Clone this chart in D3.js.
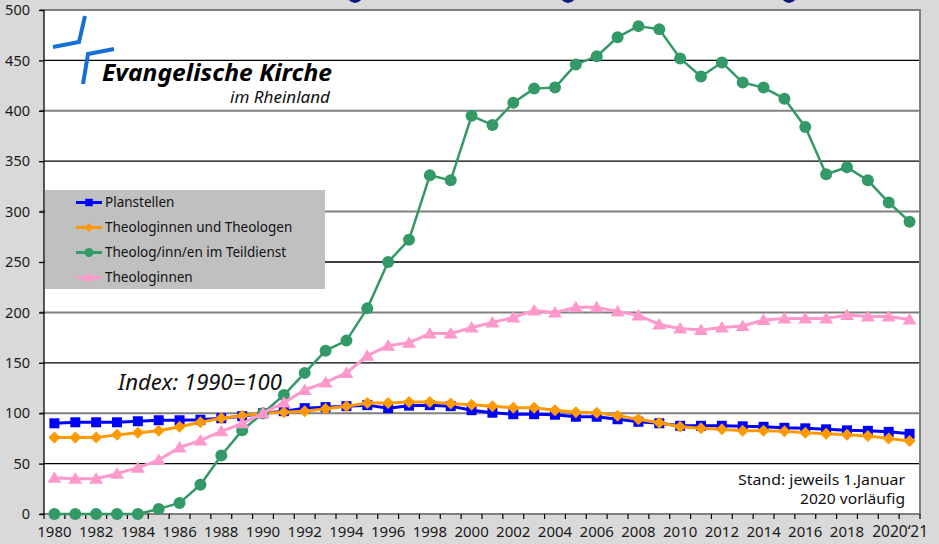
<!DOCTYPE html>
<html>
<head>
<meta charset="utf-8">
<script src="https://cdn.jsdelivr.net/npm/d3@7"></script>
<style>
  html, body { margin: 0; padding: 0; background: #d9d9d9; }
  svg { display: block; }
  text { font-family: "Noto Sans", "Open Sans", sans-serif; }
</style>
</head>
<body>
<svg id="chart" width="939" height="544"></svg>
<script>
// Index 1990 = 100, Stand jeweils 1. Januar
const years = [1980, 1981, 1982, 1983, 1984, 1985, 1986, 1987, 1988, 1989,
               1990, 1991, 1992, 1993, 1994, 1995, 1996, 1997, 1998, 1999,
               2000, 2001, 2002, 2003, 2004, 2005, 2006, 2007, 2008, 2009,
               2010, 2011, 2012, 2013, 2014, 2015, 2016, 2017, 2018, 2019,
               2020, 2021];

const planstellen = [90, 91, 91, 91, 92, 93, 93, 93.5, 95, 97,
                     100, 102, 105, 106, 107, 108, 105, 107.5, 108, 107,
                     103, 100.5, 99, 99, 98.5, 96.5, 96.5, 94, 91.5, 90,
                     87.5, 87.5, 87.5, 87, 86.5, 85.5, 85, 84, 83, 82.5,
                     81.5, 79.5];

const theologen = [76, 76, 76, 78.5, 80.5, 82.5, 86.5, 91, 95, 97.5,
                   100, 101, 102, 104.5, 107, 110, 110, 111, 111, 109.5,
                   108.5, 107, 105.5, 105.5, 103, 101, 100.5, 97.5, 94, 90.5,
                   86.5, 85, 84, 82.5, 82.5, 82, 80.5, 79.5, 78.5, 77.5,
                   75, 72.5];

const teildienst = [0, 0, 0, 0, 0, 5, 11, 29, 58, 83,
                    100, 118, 140, 162, 172, 204, 250, 272, 336, 331,
                    395, 386, 408, 422, 423, 446, 454, 473, 484, 481,
                    452, 434, 448, 428, 423, 412, 384, 337, 344, 331,
                    309, 290];

const theologinnen = [36, 35, 35, 40, 46, 53.5, 66, 73, 82, 90,
                      100, 110.5, 123, 130.5, 140, 157, 167, 170, 179, 179,
                      185, 190, 195, 202, 200, 205, 205, 201, 197, 188,
                      184, 182.5, 185, 186.5, 192.5, 194, 194, 194, 197.5, 196,
                      196, 193];

const seriesNames = ["Planstellen", "Theologinnen und Theologen",
                     "Theolog/inn/en im Teildienst", "Theologinnen"];
const yTicks = [0, 50, 100, 150, 200, 250, 300, 350, 400, 450, 500];
const xTickYears = [1980, 1982, 1984, 1986, 1988, 1990, 1992, 1994, 1996, 1998,
                    2000, 2002, 2004, 2006, 2008, 2010, 2012, 2014, 2016, 2018];
const lastTickLabel = "2020‘21";

const W = 939, H = 544;
const plot = { left: 44, right: 920, top: 10, bottom: 514 };

const svg = d3.select("#chart");

const x = d3.scaleBand().domain(years).range([plot.left, plot.right]).padding(0);
const cx = yr => x(yr) + x.bandwidth() / 2;
const y = d3.scaleLinear().domain([0, 500]).range([plot.bottom, plot.top]);

// page background
svg.append("rect").attr("width", W).attr("height", H).attr("fill", "#d9d9d9");

// partly visible heading descenders along the top edge
const headG = svg.append("g").attr("fill", "none").attr("stroke", "#0a1a7a")
  .attr("stroke-width", 3).attr("stroke-linecap", "round");
[355, 568, 789].forEach(px => {
  headG.append("path").attr("d", `M${px - 6},-2 Q${px},5 ${px + 6},-2`);
});

// plot area
svg.append("rect")
  .attr("x", plot.left).attr("y", plot.top)
  .attr("width", plot.right - plot.left).attr("height", plot.bottom - plot.top)
  .attr("fill", "#ffffff");

// horizontal gridlines: hundreds grey and heavier, fifties thin black
const grid = svg.append("g");
yTicks.forEach(v => {
  const major = v % 100 === 0;
  grid.append("line")
    .attr("x1", major ? plot.left - 4 : plot.left).attr("x2", plot.right)
    .attr("y1", y(v)).attr("y2", y(v))
    .attr("stroke", major ? "#808080" : "#000000")
    .attr("stroke-width", major ? 2 : 1.3);
});

// right frame edge
svg.append("line")
  .attr("x1", plot.right).attr("x2", plot.right)
  .attr("y1", plot.top - 1).attr("y2", plot.bottom + 1)
  .attr("stroke", "#808080").attr("stroke-width", 2);

// y axis
const yAxis = svg.append("g")
  .attr("transform", `translate(${plot.left},0)`)
  .call(d3.axisLeft(y).tickValues(yTicks).tickSize(5).tickPadding(9).tickFormat(d3.format("d")));
yAxis.select(".domain").attr("stroke", "#000").attr("stroke-width", 1.3)
  .attr("d", `M0,${plot.top}V${plot.bottom}`);
yAxis.selectAll(".tick line").attr("stroke", "#000").attr("stroke-width", 1.3);
yAxis.selectAll(".tick text")
  .attr("font-size", 14.5).attr("fill", "#1a1a1a")
  .attr("font-family", "'Noto Sans', sans-serif");

// x axis: category boundary ticks and year labels
const xg = svg.append("g");
const bounds = years.map(yr => x(yr)).concat([plot.right]);
bounds.forEach(bx => {
  xg.append("line")
    .attr("x1", bx).attr("x2", bx)
    .attr("y1", plot.bottom).attr("y2", plot.bottom + 5)
    .attr("stroke", "#000").attr("stroke-width", 1.2);
});
xTickYears.forEach(yr => {
  xg.append("text")
    .attr("x", cx(yr)).attr("y", 537)
    .attr("text-anchor", "middle")
    .attr("font-size", 15).attr("fill", "#1a1a1a")
    .text(String(yr));
});
xg.append("text")
  .attr("x", (cx(2020) + cx(2021)) / 2 + 1).attr("y", 537)
  .attr("text-anchor", "middle")
  .attr("font-size", 15.5).attr("fill", "#1a1a1a")
  .text(lastTickLabel);

// legend
const legendColors = ["#0000ff", "#ff9900", "#339966", "#ff99cc"];
const legend = svg.append("g");
legend.append("rect")
  .attr("x", 45).attr("y", 190).attr("width", 280).attr("height", 99)
  .attr("fill", "#c0c0c0");

// marker shapes per series
const markers = [
  (g, px, py, s) => g.append("rect").attr("x", px - 5 * s).attr("y", py - 5 * s)
                     .attr("width", 10 * s).attr("height", 10 * s),
  (g, px, py, s) => g.append("path")
                     .attr("d", `M${px},${py - 6 * s}L${px + 6 * s},${py}L${px},${py + 6 * s}L${px - 6 * s},${py}Z`),
  (g, px, py, s) => g.append("circle").attr("cx", px).attr("cy", py).attr("r", 6 * s),
  (g, px, py, s) => g.append("path")
                     .attr("d", `M${px},${py - 6.5 * s}L${px + 7 * s},${py + 5 * s}L${px - 7 * s},${py + 5 * s}Z`)
];

const legendY = [202.5, 227.5, 252.5, 277.5];
seriesNames.forEach((name, i) => {
  const ly = legendY[i];
  legend.append("line")
    .attr("x1", 76).attr("x2", 102).attr("y1", ly).attr("y2", ly)
    .attr("stroke", legendColors[i]).attr("stroke-width", 3);
  markers[i](legend, 89, ly, 0.75).attr("fill", legendColors[i]);
  legend.append("text")
    .attr("x", 105).attr("y", ly + 4.5)
    .attr("font-size", 13.5).attr("fill", "#111")
    .text(name);
});

// logo
const logo = svg.append("g").attr("fill", "none").attr("stroke", "#1670d6")
  .attr("stroke-width", 4);
logo.append("path").attr("d", "M53,47 L79,42 L85,16");
logo.append("path").attr("d", "M83,84 L88,54 L114,49");
svg.append("text")
  .attr("x", 102).attr("y", 81)
  .attr("font-size", 22.5).attr("font-weight", "bold").attr("font-style", "italic")
  .attr("fill", "#000")
  .attr("textLength", 230).attr("lengthAdjust", "spacingAndGlyphs")
  .text("Evangelische Kirche");
svg.append("text")
  .attr("x", 230).attr("y", 103)
  .attr("font-size", 15.5).attr("font-style", "italic").attr("fill", "#111")
  .attr("textLength", 100).attr("lengthAdjust", "spacingAndGlyphs")
  .text("im Rheinland");

// data series
const seriesData = [planstellen, theologen, teildienst, theologinnen];
const lineWidths = [3, 3, 2.5, 3];
const line = d3.line().x((d, i) => cx(years[i])).y(d => y(d));

seriesData.forEach((vals, i) => {
  const g = svg.append("g");
  g.append("path").datum(vals)
    .attr("d", line)
    .attr("fill", "none")
    .attr("stroke", legendColors[i])
    .attr("stroke-width", lineWidths[i])
    .attr("stroke-linejoin", "round");
  vals.forEach((v, j) => {
    markers[i](g, cx(years[j]), y(v), 1).attr("fill", legendColors[i]);
  });
});

// annotations
svg.append("text")
  .attr("x", 118).attr("y", 390)
  .attr("font-size", 21).attr("font-style", "italic").attr("fill", "#111")
  .attr("textLength", 164).attr("lengthAdjust", "spacingAndGlyphs")
  .text("Index: 1990=100");
svg.append("text")
  .attr("x", 738).attr("y", 485)
  .attr("font-size", 15).attr("fill", "#111")
  .attr("textLength", 167).attr("lengthAdjust", "spacingAndGlyphs")
  .text("Stand: jeweils 1.Januar");
svg.append("text")
  .attr("x", 800).attr("y", 504)
  .attr("font-size", 15).attr("fill", "#111")
  .attr("textLength", 105).attr("lengthAdjust", "spacingAndGlyphs")
  .text("2020 vorläufig");
</script>
</body>
</html>
